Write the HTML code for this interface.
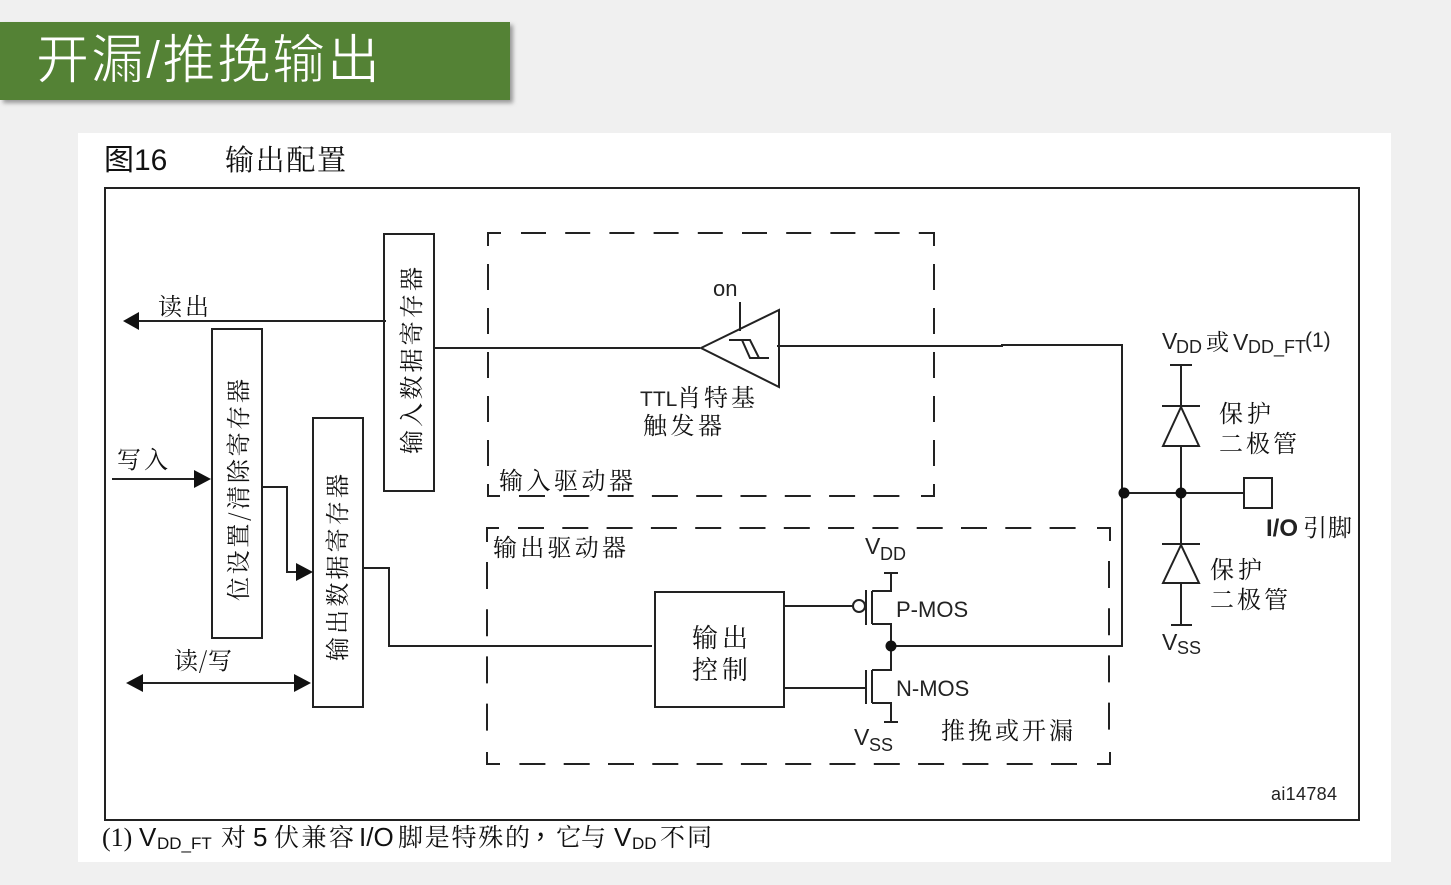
<!DOCTYPE html>
<html><head><meta charset="utf-8">
<style>
html,body{margin:0;padding:0;width:1451px;height:885px;overflow:hidden;background:#f0f0f0}
svg{display:block}
.s{font-family:"Liberation Serif","Noto Serif CJK SC",serif;fill:#111}
.a{font-family:"Liberation Sans","Noto Sans CJK SC",sans-serif;fill:#222}
.c{font-family:"Noto Serif CJK SC",serif;fill:#111;font-size:24px}
</style></head><body>
<svg width="1451" height="885" viewBox="0 0 1451 885" xmlns="http://www.w3.org/2000/svg">
<defs><filter id="sh" x="-2%" y="-10%" width="104%" height="125%"><feGaussianBlur stdDeviation="2"/></filter></defs>
<rect x="0" y="0" width="1451" height="885" fill="#f0f0f0"/>
<rect x="3" y="25" width="510" height="78" fill="#999" filter="url(#sh)"/>
<rect x="0" y="22" width="510" height="78" fill="#548235"/>
<text x="36" y="78" font-size="53" fill="#fff" stroke="#548235" stroke-width="0.9" font-family="'Liberation Sans','Noto Sans CJK SC',sans-serif" textLength="344">开漏/推挽输出</text>
<rect x="78" y="133" width="1313" height="729" fill="#fff"/>

<text x="104" y="170" font-size="30" class="a" style="fill:#111">图16</text>
<text x="225" y="170" class="c" style="font-size:29px" textLength="121">输出配置</text>
<rect x="105" y="188" width="1254" height="632" fill="none" stroke="#222" stroke-width="2"/>

<g fill="none" stroke="#222" stroke-width="2">
<!-- input driver dashed box -->
<path d="M488 246V233H501"/>
<path d="M521 233H934" stroke-dasharray="25 19.2"/>
<path d="M921 233H934V246"/>
<path d="M934 264V466" stroke-dasharray="26 18"/>
<path d="M921 496H934V484"/>
<path d="M500 496H488V484"/>
<path d="M488 264V466" stroke-dasharray="26 18"/>
<path d="M519 496H900" stroke-dasharray="26 18.3"/>
<!-- output driver dashed box -->
<path d="M487 542V528H499"/>
<path d="M518 528H1085" stroke-dasharray="26 18.3"/>
<path d="M1097 528H1110V541"/>
<path d="M1109 561V731" stroke-dasharray="27 20.2"/>
<path d="M1110 752V764H1097"/>
<path d="M1077 764H519" stroke-dasharray="26 18.3"/>
<path d="M500 764H487V752"/>
<path d="M487 562V731" stroke-dasharray="27 20.2"/>

<!-- registers -->
<rect x="384" y="234" width="50" height="257"/>
<rect x="212" y="329" width="50" height="309"/>
<rect x="313" y="418" width="50" height="289"/>
<rect x="655" y="592" width="129" height="115"/>
<!-- wires -->
<path d="M386 321H136"/>
<path d="M112 479H198"/>
<path d="M262 487H287V572H300"/>
<path d="M138 683H300"/>
<path d="M362 568H389V646H652"/>
<path d="M435 348H700"/>
<path d="M777 346H1002V345H1122V646H890"/>
<path d="M1122 493H1243"/>
<!-- schmitt -->
<path d="M701 348L779 310V387Z"/>
<path d="M740 302V331"/>
<path d="M729 340H750L759 358H769H750L742 340"/>
<!-- diodes -->
<path d="M1181 365V407M1170 365H1192M1162 406H1200M1181 407L1163 446H1199Z M1181 446V544M1162 544H1200M1181 545L1163 583H1199Z M1181 583V625M1171 625H1192"/>
<rect x="1244" y="478" width="28" height="30"/>
<!-- MOS -->
<path d="M785 606H853"/>
<circle cx="859" cy="606" r="6"/>
<path d="M866 590V625M872 591V624M872 591H891V573M884 573H898M872 624H891V670H872M872 670V703M872 703H891V722M884 722H898"/>
<path d="M785 688H865M866 670V704"/>
</g>
<g fill="#111">
<path d="M123 321L139 312V330Z"/>
<path d="M211 479L194 470V488Z"/>
<path d="M313 572L296 563V581Z"/>
<path d="M126 683L143 674V692Z"/>
<path d="M311 683L294 674V692Z"/>
<circle cx="1124" cy="493" r="5.5"/>
<circle cx="1181" cy="493" r="5.5"/>
<circle cx="891" cy="646" r="5.5"/>
</g>

<!-- vertical labels -->
<text class="c" transform="translate(420 454) rotate(-90)" textLength="187">输入数据寄存器</text>
<text class="c" transform="translate(247 601) rotate(-90)" textLength="222">位设置/清除寄存器</text>
<text class="c" transform="translate(346 661) rotate(-90)" textLength="187">输出数据寄存器</text>

<!-- labels -->
<text class="c" x="158" y="315" textLength="51">读出</text>
<text class="c" x="117" y="468" textLength="51">写入</text>
<text class="c" x="174" y="669" textLength="58">读/写</text>
<text class="a" x="713" y="296" font-size="22">on</text>
<text class="a" x="640" y="406" font-size="21">TTL</text>
<text class="c" x="677" y="406" textLength="78">肖特基</text>
<text class="c" x="643" y="434" textLength="79">触发器</text>
<text class="c" x="499" y="489" textLength="134">输入驱动器</text>
<text class="c" x="493" y="556" textLength="133">输出驱动器</text>
<text class="c" x="692" y="647" style="font-size:26px" textLength="56">输出</text>
<text class="c" x="692" y="679" style="font-size:26px" textLength="56">控制</text>
<text class="c" x="941" y="739" textLength="132">推挽或开漏</text>
<text class="c" x="1219" y="422" textLength="52">保护</text>
<text class="c" x="1219" y="452" textLength="78">二极管</text>
<text class="c" x="1210" y="578" textLength="52">保护</text>
<text class="c" x="1210" y="608" textLength="78">二极管</text>

<text class="a" x="865" y="554" font-size="23">V</text><text class="a" x="880" y="560" font-size="18">DD</text>
<text class="a" x="896" y="617" font-size="22">P-MOS</text>
<text class="a" x="896" y="696" font-size="22">N-MOS</text>
<text class="a" x="854" y="745" font-size="23">V</text><text class="a" x="869" y="751" font-size="18">SS</text>
<text class="a" x="1162" y="349" font-size="23">V</text><text class="a" x="1176" y="353" font-size="18">DD</text>
<text class="c" x="1206" y="350" style="font-size:23px">或</text>
<text class="a" x="1233" y="350" font-size="23">V</text><text class="a" x="1248" y="353" font-size="18">DD_FT</text>
<text class="a" x="1305" y="347" font-size="21">(1)</text>
<text class="a" x="1162" y="650" font-size="23">V</text><text class="a" x="1177" y="654" font-size="18">SS</text>
<text class="a" x="1266" y="536" font-size="24" font-weight="bold">I/O</text>
<text class="c" x="1303" y="536" textLength="49">引脚</text>
<text class="a" x="1271" y="800" font-size="18" textLength="66">ai14784</text>

<!-- footnote -->
<text class="s" x="102" y="846" font-size="26">(1)</text>
<text class="a" x="139" y="846" font-size="26" style="fill:#111">V</text>
<text class="a" x="157" y="849" font-size="17" style="fill:#111">DD_FT</text>
<text class="c" x="221" y="846" style="font-size:25px">对</text>
<text class="a" x="253" y="846" font-size="26" style="fill:#111">5</text>
<text class="c" x="274" y="846" style="font-size:25px" textLength="80">伏兼容</text>
<text class="a" x="359" y="846" font-size="26" style="fill:#111">I/O</text>
<text class="c" x="398" y="846" style="font-size:25px" textLength="132">脚是特殊的</text>
<text x="528" y="846" font-size="25" fill="#111" font-family="'Noto Sans CJK TC',sans-serif">，</text>
<text class="c" x="556" y="846" style="font-size:25px" textLength="50">它与</text>
<text class="a" x="614" y="846" font-size="26" style="fill:#111">V</text>
<text class="a" x="632" y="849" font-size="17" style="fill:#111">DD</text>
<text class="c" x="660" y="846" style="font-size:25px" textLength="52">不同</text>
</svg>
</body></html>
